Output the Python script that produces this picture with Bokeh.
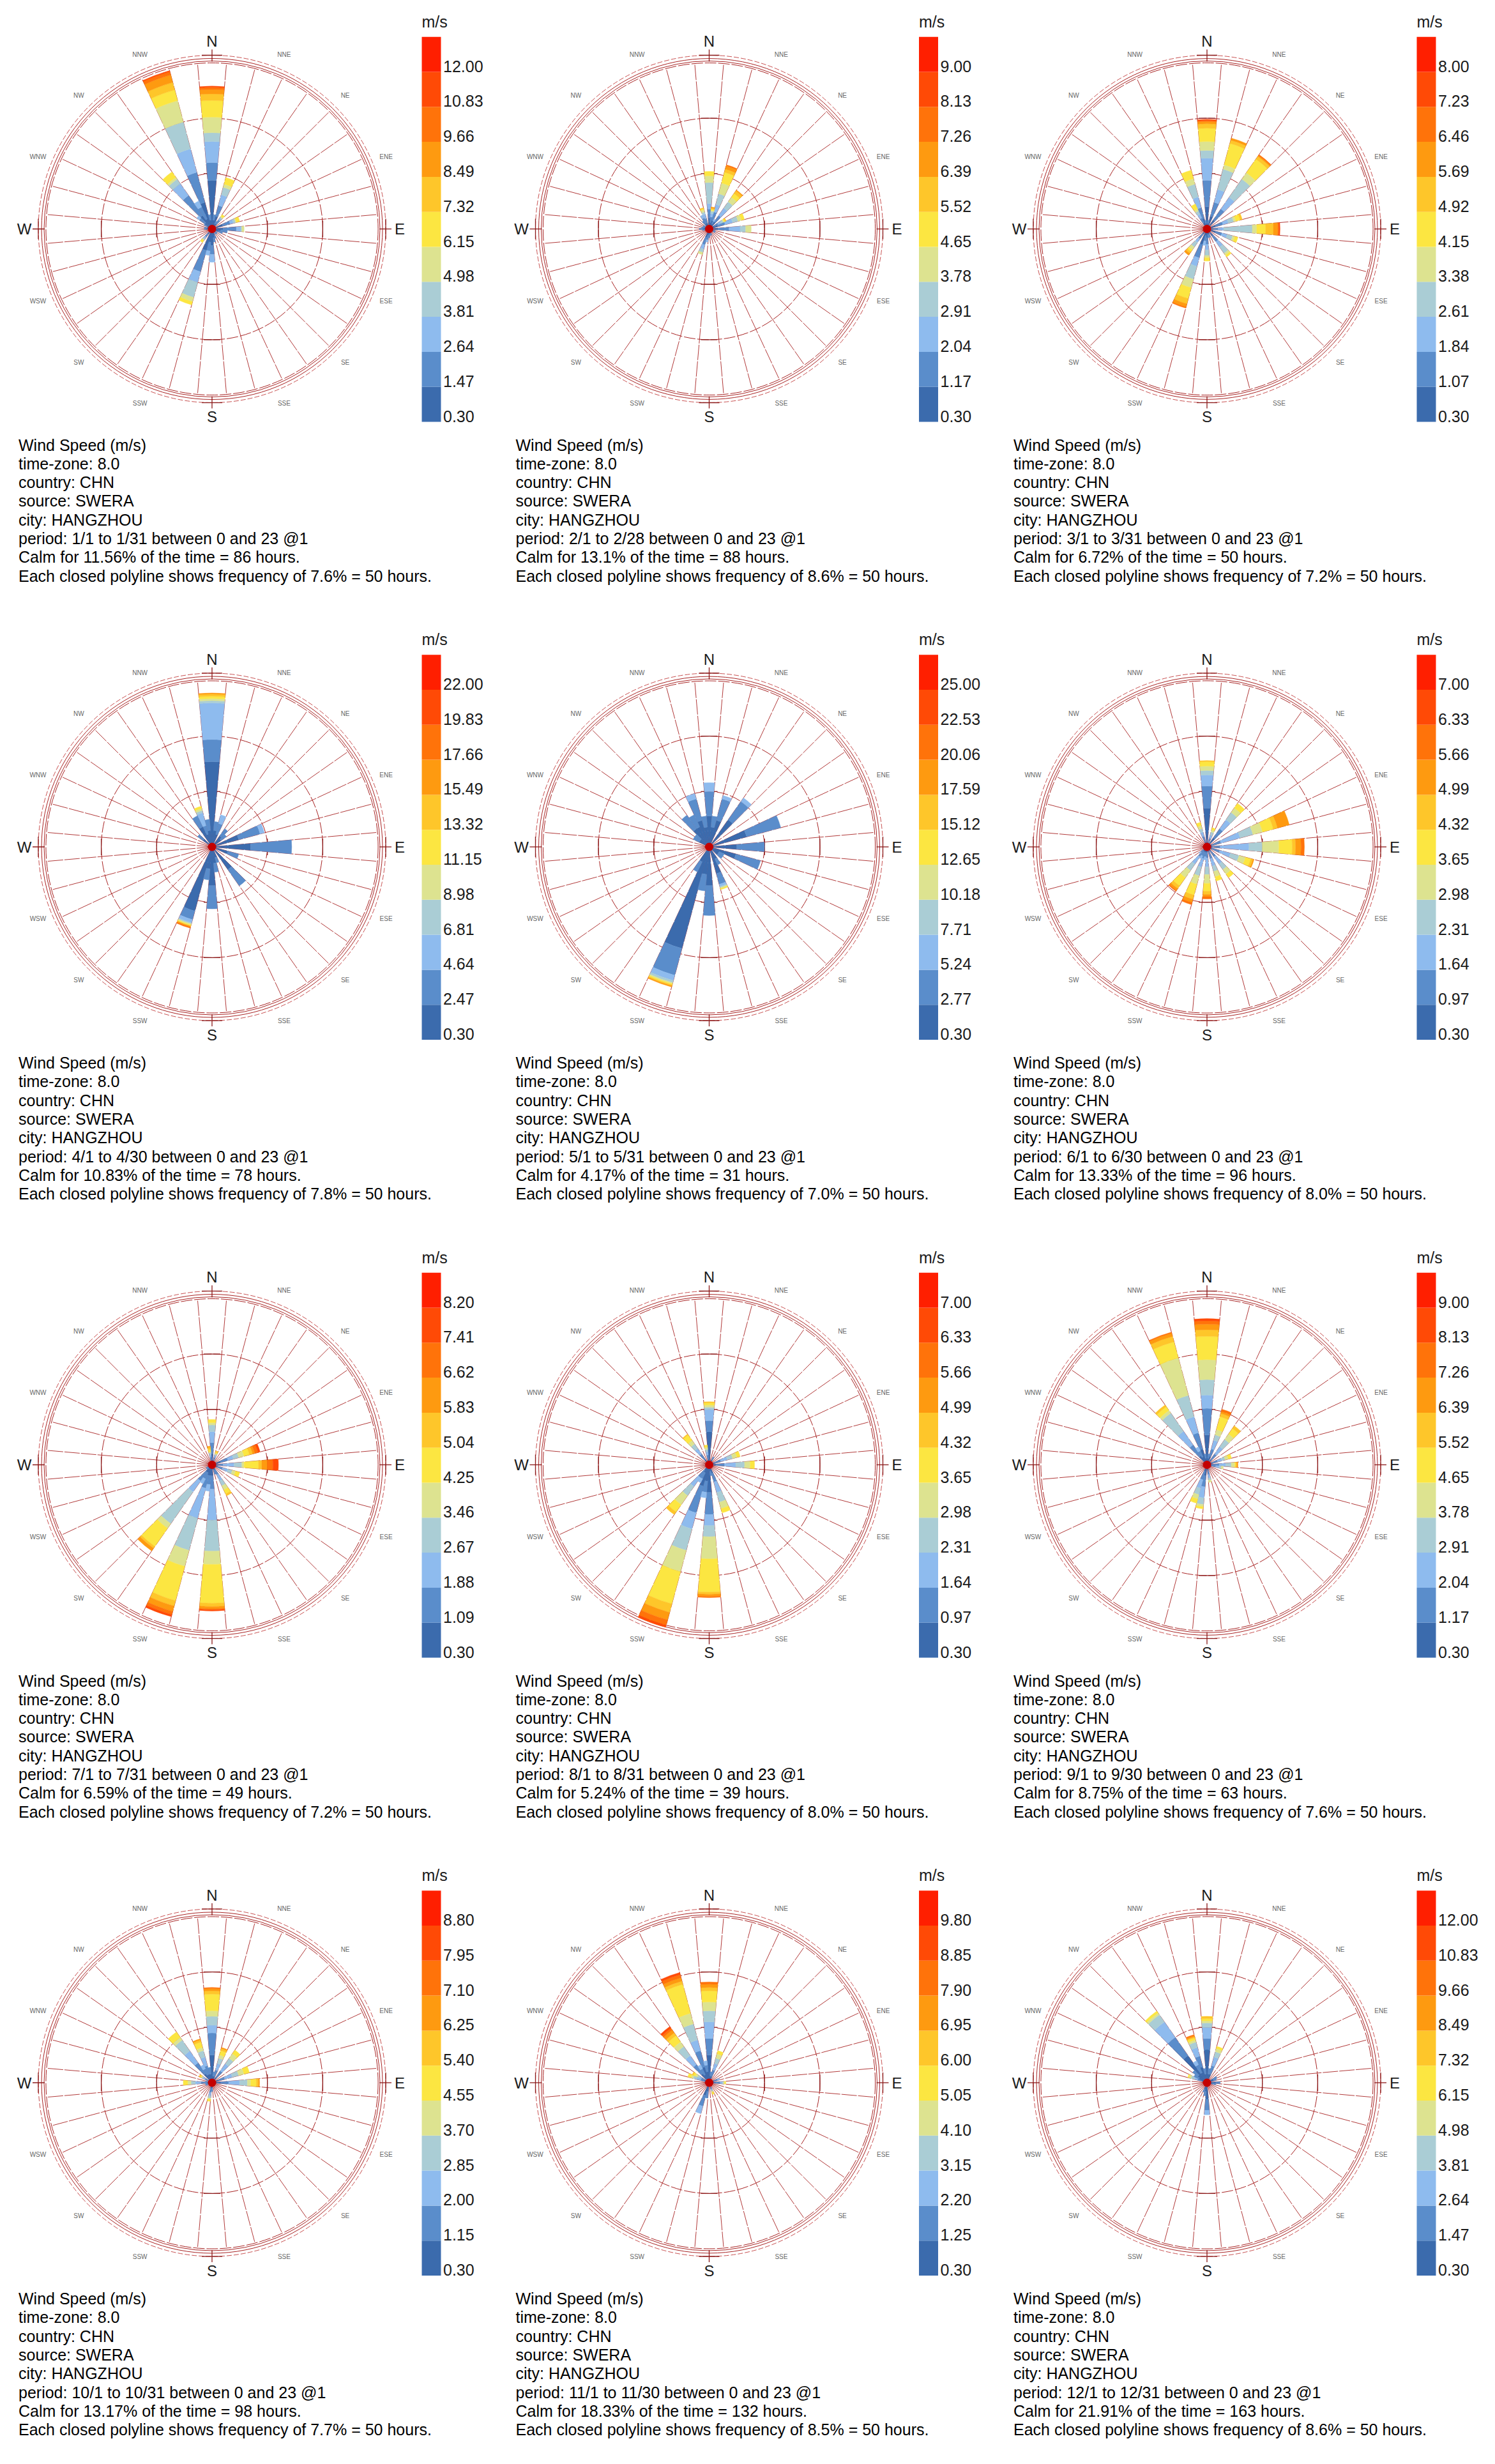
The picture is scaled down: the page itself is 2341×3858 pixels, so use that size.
import math
from bokeh.plotting import figure
from bokeh.models import Range1d, ColumnDataSource
from bokeh.embed import file_html
from bokeh.resources import INLINE
from bokeh.core.properties import value

# ---------------- data ----------------
SPEED_COLORS = ["#3B6BAD", "#5A8DCB", "#8EBBEE", "#AACDD5", "#DDE390", "#FCE641",
                "#FEC62A", "#FE9A10", "#FF730A", "#FF4A06", "#FF1F00"]

TICKS_JAN = ["0.30", "1.47", "2.64", "3.81", "4.98", "6.15", "7.32", "8.49", "9.66", "10.83", "12.00"]
TICKS_FEB = ["0.30", "1.17", "2.04", "2.91", "3.78", "4.65", "5.52", "6.39", "7.26", "8.13", "9.00"]
TICKS_MAR = ["0.30", "1.07", "1.84", "2.61", "3.38", "4.15", "4.92", "5.69", "6.46", "7.23", "8.00"]
TICKS_APR = ["0.30", "2.47", "4.64", "6.81", "8.98", "11.15", "13.32", "15.49", "17.66", "19.83", "22.00"]
TICKS_MAY = ["0.30", "2.77", "5.24", "7.71", "10.18", "12.65", "15.12", "17.59", "20.06", "22.53", "25.00"]
TICKS_JUN = ["0.30", "0.97", "1.64", "2.31", "2.98", "3.65", "4.32", "4.99", "5.66", "6.33", "7.00"]
TICKS_JUL = ["0.30", "1.09", "1.88", "2.67", "3.46", "4.25", "5.04", "5.83", "6.62", "7.41", "8.20"]
TICKS_AUG = ["0.30", "0.97", "1.64", "2.31", "2.98", "3.65", "4.32", "4.99", "5.66", "6.33", "7.00"]
TICKS_SEP = ["0.30", "1.17", "2.04", "2.91", "3.78", "4.65", "5.52", "6.39", "7.26", "8.13", "9.00"]
TICKS_OCT = ["0.30", "1.15", "2.00", "2.85", "3.70", "4.55", "5.40", "6.25", "7.10", "7.95", "8.80"]
TICKS_NOV = ["0.30", "1.25", "2.20", "3.15", "4.10", "5.05", "6.00", "6.95", "7.90", "8.85", "9.80"]
TICKS_DEC = ["0.30", "1.47", "2.64", "3.81", "4.98", "6.15", "7.32", "8.49", "9.66", "10.83", "12.00"]

PERIODS = ["1/1 to 1/31", "2/1 to 2/28", "3/1 to 3/31", "4/1 to 4/30", "5/1 to 5/31", "6/1 to 6/30",
           "7/1 to 7/31", "8/1 to 8/31", "9/1 to 9/30", "10/1 to 10/31", "11/1 to 11/30", "12/1 to 12/31"]
CALM_PCT = ["11.56", "13.1", "6.72", "10.83", "4.17", "13.33", "6.59", "5.24", "8.75", "13.17", "18.33", "21.91"]
CALM_HOURS = [86, 88, 50, 78, 31, 96, 49, 39, 63, 98, 132, 163]
POLY_PCT = ["7.6", "8.6", "7.2", "7.8", "7.0", "8.0", "7.2", "8.0", "7.6", "7.7", "8.5", "8.6"]
POLY_HOURS = 50

# hours per speed band (band 0 = lowest speed) for each 10-degree direction
JAN = {0: [44, 16, 19, 8, 14, 15, 6, 4, 2, 1], 340: [25, 28, 22, 25, 20, 10, 7, 7, 3, 1],
       320: [15, 22, 13, 5, 2, 6], 330: [10, 12, 6], 20: [12, 10, 10, 7, 3, 6], 10: [8, 5],
       40: [6, 4, 2, 1, 1, 2], 70: [10, 7, 3, 2, 1, 3], 90: [10, 12, 4, 1, 2], 100: [8, 6],
       110: [6, 4], 160: [6, 3], 170: [8, 4], 180: [15, 8, 7], 190: [12, 8, 4],
       200: [20, 20, 10, 14, 4, 3], 220: [6, 3, 2, 1, 1, 2], 300: [5, 3], 310: [8, 6, 3],
       350: [8, 5], 30: [5, 3], 270: [5, 2], 280: [5, 2], 130: [4, 2], 140: [4, 2]}
FEB = {0: [10, 8, 5, 19, 6, 4], 20: [8, 8, 7, 10, 10, 10, 3, 3, 1], 40: [8, 7, 8, 7, 5, 4, 3, 1],
       70: [8, 7, 7, 5, 3, 3], 90: [8, 10, 10, 5, 5], 60: [5, 4, 3, 2, 1, 1, 1],
       340: [5, 5, 4, 2, 2, 1, 1], 330: [6, 5, 3], 320: [5, 4], 200: [8, 7, 4, 3, 2], 190: [6, 4, 2],
       180: [5, 3], 270: [6, 3], 260: [4, 2], 280: [5, 2], 290: [4, 2], 300: [4, 2],
       10: [6, 5, 3, 2, 1, 1, 1, 1], 30: [5, 3, 2], 110: [4, 2], 120: [4, 2], 160: [4, 2], 170: [4, 2]}
MAR = {0: [20, 24, 20, 7, 8, 12, 4, 2, 1, 1], 20: [12, 13, 12, 19, 4, 20, 3, 2],
       40: [10, 12, 13, 20, 7, 15, 3, 1, 1], 70: [8, 7, 5, 5, 2, 4, 2],
       90: [5, 5, 5, 26, 4, 8, 7, 4, 1, 1], 110: [8, 6, 5, 5, 2, 3], 140: [8, 6, 6, 7, 2, 2],
       160: [5, 3], 180: [8, 6, 5, 5, 2, 3], 200: [15, 12, 8, 12, 8, 10, 5, 3, 1],
       220: [6, 5, 4, 5, 3, 2, 2, 2], 340: [10, 10, 10, 12, 5, 8], 330: [6, 5, 4, 3, 2, 5],
       190: [6, 5, 4], 170: [5, 3], 350: [5, 3], 10: [5, 3]}
APR = {0: [77, 20, 33, 2, 2, 2, 2, 1], 340: [12, 8, 12, 2, 2, 2], 20: [12, 10, 8], 70: [25, 20, 4],
       90: [35, 37], 110: [15, 10], 140: [25, 18], 180: [35, 21], 200: [60, 8, 3, 1, 1, 1, 0, 1, 1],
       330: [20, 11], 190: [20, 10], 170: [15, 8], 40: [12, 8], 50: [10, 6], 310: [10, 6],
       350: [15, 10], 10: [15, 8], 160: [10, 5]}
MAY = {0: [28, 22, 8], 340: [25, 20, 5], 20: [25, 20, 3], 320: [20, 15], 330: [20, 12],
       40: [30, 20, 4], 70: [35, 32], 90: [25, 25], 110: [25, 23], 160: [25, 10, 2, 1, 1, 1],
       180: [35, 27], 200: [95, 25, 5, 2, 1, 1, 1, 1], 190: [25, 15], 210: [15, 10], 150: [12, 6],
       120: [10, 5], 130: [10, 5], 300: [10, 6], 310: [10, 6], 350: [18, 10], 10: [18, 10]}
JUN = {0: [35, 20, 10, 4, 4, 4, 1], 40: [10, 10, 10, 8, 5, 5], 70: [5, 8, 18, 12, 9, 10, 4, 11],
       90: [5, 7, 26, 12, 15, 12, 3, 5, 3], 110: [5, 7, 10, 8, 6, 5, 2, 1], 140: [5, 6, 8, 6, 5, 4],
       160: [5, 6, 7, 5, 5, 4], 180: [5, 5, 8, 7, 8, 7, 3, 2, 2], 200: [5, 6, 8, 8, 8, 10, 4, 3, 2],
       220: [5, 6, 8, 7, 8, 9, 3, 2, 1], 340: [5, 5, 4, 3, 3, 3], 20: [4, 4, 3, 3, 2, 2],
       190: [5, 4, 3], 210: [5, 4, 3], 230: [4, 3, 2]}
JUL = {0: [10, 10, 10, 6, 2, 3], 20: [4, 3, 2, 1, 1, 1, 1], 70: [8, 7, 5, 5, 5, 5, 3, 2, 3, 2],
       90: [5, 5, 10, 7, 2, 13, 3, 5, 5, 5], 110: [5, 5, 5, 4, 3, 4], 150: [5, 5, 6, 5, 4, 4, 2],
       180: [10, 12, 28, 28, 12, 35, 3, 2, 1, 1], 200: [10, 12, 28, 30, 15, 32, 5, 5, 3, 2],
       220: [8, 10, 12, 35, 5, 20, 2, 3], 190: [10, 8, 6], 210: [8, 6, 5],
       350: [4, 3, 2, 2, 1, 2, 2, 1], 160: [5, 4], 230: [4, 2], 240: [4, 2]}
AUG = {0: [30, 10, 10, 2, 2, 2, 1], 320: [6, 6, 6, 5, 4, 6, 1], 350: [5, 4, 3, 2, 2, 2],
       70: [5, 6, 6, 5, 4, 3], 90: [6, 8, 10, 8, 5, 4], 160: [8, 8, 10, 9, 6, 4],
       180: [25, 20, 10, 10, 20, 30, 2, 2, 1], 200: [20, 25, 15, 20, 20, 30, 8, 7, 5, 2],
       220: [6, 8, 10, 10, 10, 8, 3], 190: [15, 10, 5], 210: [8, 6, 4], 30: [5, 3], 170: [6, 4]}
SEP = {0: [27, 24, 12, 14, 18, 21, 6, 5, 3, 2], 340: [15, 15, 15, 20, 35, 15, 5, 3, 1],
       320: [10, 12, 15, 20, 3, 4, 2], 20: [8, 7, 8, 5, 5, 12, 3, 2, 2], 40: [6, 6, 8, 8, 6, 6, 3],
       70: [5, 5, 4, 3, 3, 3], 90: [5, 6, 6, 5, 3, 1, 1, 1], 100: [4, 4, 3, 2, 2],
       190: [10, 10, 10, 6, 2, 2], 200: [6, 8, 8, 6, 4, 4], 170: [5, 4, 3, 2, 2], 330: [8, 6, 4],
       350: [6, 4], 10: [6, 4]}
OCT = {0: [25, 20, 7, 8, 5, 15, 3, 2, 1], 320: [10, 12, 13, 12, 3, 6], 340: [8, 8, 8, 6, 3, 5, 2, 1],
       20: [6, 6, 6, 5, 3, 4, 2, 1], 40: [6, 7, 8, 6, 5, 4], 70: [6, 6, 7, 6, 5, 5],
       90: [8, 7, 10, 7, 3, 5, 2, 1], 270: [5, 5, 5, 4, 3, 4], 300: [4, 3, 2, 1, 1, 1, 1],
       190: [5, 4, 3, 2, 1, 2], 330: [8, 6, 4], 350: [8, 6], 10: [6, 4], 180: [5, 3],
       250: [4, 2], 260: [4, 2], 280: [4, 2]}
NOV = {0: [25, 15, 15, 10, 8, 10, 3, 3, 2], 340: [15, 15, 10, 15, 10, 27, 3, 3, 3, 2],
       320: [10, 10, 10, 10, 5, 7, 3, 3, 2, 2], 20: [6, 6, 6, 5, 4, 3], 290: [4, 4, 4, 3, 2, 3],
       200: [12, 10, 7], 190: [8, 6], 330: [8, 6, 4], 350: [10, 6, 4], 10: [6, 4], 70: [5, 3, 2],
       90: [6, 4, 2, 1, 1, 1], 160: [3, 3, 1, 1, 1, 2], 300: [5, 3, 2, 2, 2, 2, 1]}
DEC = {320: [30, 20, 17, 8, 2, 2], 0: [30, 10, 10, 4, 2, 2, 2], 340: [15, 10, 8, 5, 2, 2, 1, 1, 1],
       20: [8, 8, 8, 5, 3, 2], 290: [5, 4, 3, 3, 2, 1], 180: [15, 10, 4], 330: [10, 8, 4],
       350: [8, 5], 10: [8, 5], 60: [6, 4], 70: [6, 3], 90: [8, 4], 100: [5, 3], 300: [8, 5],
       310: [10, 6], 190: [8, 4], 200: [6, 3]}

ROSES = [JAN, FEB, MAR, APR, MAY, JUN, JUL, AUG, SEP, OCT, NOV, DEC]
TICKS = [TICKS_JAN, TICKS_FEB, TICKS_MAR, TICKS_APR, TICKS_MAY, TICKS_JUN,
         TICKS_JUL, TICKS_AUG, TICKS_SEP, TICKS_OCT, TICKS_NOV, TICKS_DEC]
MINOR_DIRS = ["NNE", "NE", "ENE", "ESE", "SE", "SSE", "SSW", "SW", "WSW", "WNW", "NW", "NNW"]
MINOR_ANG = [22.5, 45, 67.5, 112.5, 135, 157.5, 202.5, 225, 247.5, 292.5, 315, 337.5]

# ---------------- layout ----------------
PAGE_H = 3858
COL_X = [332.5, 1111.0, 1890.5]
ROW_Y = [359.0, 1326.5, 2294.0, 3261.5]
RING = 86.7            # pixels per closed polyline (50 hours)
PX_PER_HOUR = RING / POLY_HOURS
FONT = value("Liberation Sans")
GRID = "#A82424"
SHIFT = 7

p = figure(width=2325, height=3842, x_range=Range1d(8 - SHIFT, 2333 - SHIFT),
           y_range=Range1d(8 + SHIFT, 3850 + SHIFT),
           output_backend="svg", toolbar_location=None, min_border=0,
           x_axis_location=None, y_axis_location=None)
p.grid.visible = False
p.outline_line_color = None
p.background_fill_color = "white"
p.border_fill_color = "white"


def pol(cx, cy, r, th):
    t = math.radians(th)
    return cx + r * math.sin(t), cy + r * math.cos(t)


wx, wy, wr0, wr1, wa0, wa1, wc = [], [], [], [], [], [], []
sx0, sy0, sx1, sy1 = [], [], [], []
rx, ry, rr, = [], [], []
ox, oy, orr = [], [], []
dx_, dy_, dr_ = [], [], []
tkx0, tky0, tkx1, tky1 = [], [], [], []
qx0, qx1, qy0, qy1, qc = [], [], [], [], []
tx, ty, tt = [], [], []          # body text
lx, ly, lt = [], [], []          # colorbar labels
cxl, cyl, ctl = [], [], []       # cardinal labels
mxl, myl, mtl = [], [], []       # minor labels
cdx, cdy = [], []

for i in range(12):
    cx = COL_X[i % 3]
    cy_ref = ROW_Y[i // 3]
    cy = PAGE_H - cy_ref
    rose = ROSES[i]
    # spokes on the sector boundaries
    for k in range(36):
        a = 5 + 10 * k
        x1, y1 = pol(cx, cy, 3 * RING, a)
        sx0.append(cx); sy0.append(cy); sx1.append(x1); sy1.append(y1)
    # closed polylines
    for m in (1, 2, 3):
        rx.append(cx); ry.append(cy); rr.append(m * RING)
    for r in (263, 267):
        ox.append(cx); oy.append(cy); orr.append(r)
    dx_.append(cx); dy_.append(cy); dr_.append(272)
    # ticks on rings at cardinal points
    for m in (1, 2):
        r = m * RING
        for th in (0, 90, 180, 270):
            px, py = pol(cx, cy, r, th)
            ux, uy = math.cos(math.radians(th)), -math.sin(math.radians(th))
            tkx0.append(px - 13 * ux); tky0.append(py - 13 * uy)
            tkx1.append(px + 13 * ux); tky1.append(py + 13 * uy)
    for th in (0, 90, 180, 270):
        px, py = pol(cx, cy, 272, th)
        ux, uy = math.cos(math.radians(th)), -math.sin(math.radians(th))
        tkx0.append(px - 16 * ux); tky0.append(py - 16 * uy)
        tkx1.append(px + 16 * ux); tky1.append(py + 16 * uy)
        a0x, a0y = pol(cx, cy, 262, th)
        a1x, a1y = pol(cx, cy, 281, th)
        tkx0.append(a0x); tky0.append(a0y); tkx1.append(a1x); tky1.append(a1y)
    # bars
    for d, bands in rose.items():
        cum = 0.0
        for b, h in enumerate(bands):
            if h <= 0:
                continue
            wx.append(cx); wy.append(cy)
            wr0.append(cum * PX_PER_HOUR); wr1.append((cum + h) * PX_PER_HOUR)
            wa0.append(90 - d - 5); wa1.append(90 - d + 5)
            wc.append(SPEED_COLORS[b])
            cum += h
    cdx.append(cx); cdy.append(cy)
    # labels
    for name, th in zip(["N", "E", "S", "W"], [0, 90, 180, 270]):
        px, py = pol(cx, cy, 294, th)
        cxl.append(px); cyl.append(py); ctl.append(name)
    for name, th in zip(MINOR_DIRS, MINOR_ANG):
        px, py = pol(cx, cy, 295, th)
        mxl.append(px); myl.append(py); mtl.append(name)
    # colorbar
    band_h = 54.8
    bottom_ref = cy_ref + 302
    for b in range(11):
        qx0.append(cx + 328.5); qx1.append(cx + 358.5)
        qy0.append(PAGE_H - (bottom_ref - band_h * b)); qy1.append(PAGE_H - (bottom_ref - band_h * (b + 1)))
        qc.append(SPEED_COLORS[b])
        lx.append(cx + 362); ly.append(PAGE_H - (bottom_ref - band_h * b - 9)); lt.append(TICKS[i][b])
    lx.append(cx + 328.5); ly.append(PAGE_H - (cy_ref - 325)); lt.append("m/s")
    # body text
    lines = ["Wind Speed (m/s)", "time-zone: 8.0", "country: CHN", "source: SWERA", "city: HANGZHOU",
             "period: %s between 0 and 23 @1" % PERIODS[i],
             "Calm for %s%% of the time = %d hours." % (CALM_PCT[i], CALM_HOURS[i]),
             "Each closed polyline shows frequency of %s%% = %d hours." % (POLY_PCT[i], POLY_HOURS)]
    for j, s in enumerate(lines):
        tx.append(cx - 303); ty.append(PAGE_H - (cy_ref + 338 + 29.3 * j)); tt.append(s)

# draw grid
p.circle(x=rx, y=ry, radius=rr, fill_color=None, line_color=GRID, line_width=1, line_dash="18 3")
p.circle(x=ox, y=oy, radius=orr, fill_color=None, line_color=GRID, line_width=1)
p.circle(x=dx_, y=dy_, radius=dr_, fill_color=None, line_color="#C85050", line_width=1, line_dash="8 3")
p.segment(x0=sx0, y0=sy0, x1=sx1, y1=sy1, line_color=GRID, line_width=0.9, line_dash="24 2")
p.segment(x0=tkx0, y0=tky0, x1=tkx1, y1=tky1, line_color="#8B1A1A", line_width=1.3)

# bars
bars = ColumnDataSource(dict(x=wx, y=wy, r0=wr0, r1=wr1, a0=wa0, a1=wa1, c=wc))
p.annular_wedge(x="x", y="y", inner_radius="r0", outer_radius="r1", start_angle="a0", end_angle="a1",
                start_angle_units="deg", end_angle_units="deg", fill_color="c", line_color="c",
                line_width=0.4, source=bars)
p.circle(x=cdx, y=cdy, radius=6.5, fill_color="#C40000", line_color=None)

# colorbars
p.quad(left=qx0, right=qx1, bottom=qy0, top=qy1, fill_color=qc, line_color=None)
p.text(x=lx, y=ly, text=lt, text_font=FONT, text_font_size=value("25px"), text_color="#1A1A1A",
       text_baseline="middle", text_align="left")

# direction labels
p.text(x=cxl, y=cyl, text=ctl, text_font=FONT, text_font_size=value("24px"), text_color="#1A1A1A",
       text_baseline="middle", text_align="center")
p.text(x=mxl, y=myl, text=mtl, text_font=FONT, text_font_size=value("10px"), text_color="#666666",
       text_baseline="middle", text_align="center")

# body text
p.text(x=tx, y=ty, text=tt, text_font=FONT, text_font_size=value("25px"), text_color="#000000",
       text_baseline="middle", text_align="left")

open("out.html", "w").write(file_html(p, INLINE))
